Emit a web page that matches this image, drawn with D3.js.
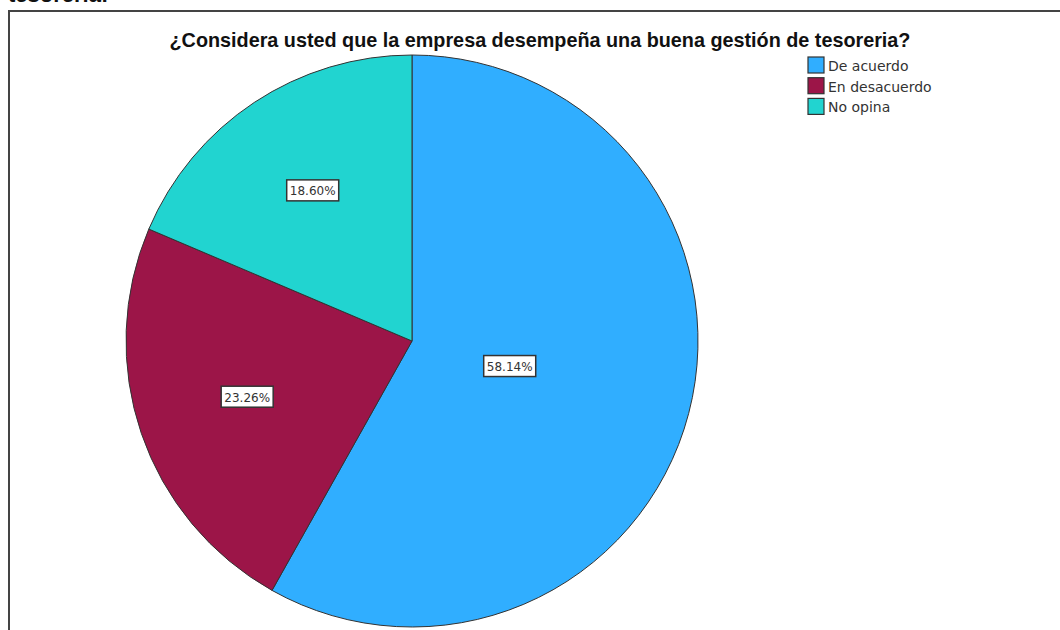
<!DOCTYPE html>
<html><head><meta charset="utf-8">
<script src="https://cdn.jsdelivr.net/npm/d3@7"></script>
<style>body{margin:0;background:#fff;overflow:hidden}svg{display:block;font-family:Arial,"Liberation Sans",sans-serif}</style>
</head><body><svg id="c" width="1060" height="630"></svg>
<script>
const categories = ["De acuerdo", "En desacuerdo", "No opina"];
const values = [58.14, 23.26, 18.60];
const labels = ["58.14%", "23.26%", "18.60%"];
const colors = ["#30aeff", "#9c1548", "#21d4d0"];
const title = "¿Considera usted que la empresa desempeña una buena gestión de tesoreria?";

const svg = d3.select("#c");
// cut-off heading above frame
svg.append("text").attr("x", 8).attr("y", 2).attr("font-size", 22).attr("font-weight", "bold").attr("fill", "#111").text("tesorería:");
// frame
svg.append("rect").attr("x", 9).attr("y", 11).attr("width", 1080).attr("height", 700)
  .attr("fill", "none").attr("stroke", "#444").attr("stroke-width", 2);

svg.append("text").attr("x", 540).attr("y", 47).attr("text-anchor", "middle")
  .attr("font-size", 19.8).attr("font-weight", "bold").attr("fill", "#111").text(title);

const cx = 412, cy = 341, r = 286;
const data = categories.map((c, i) => ({c, v: values[i], l: labels[i], col: colors[i]}));
const pie = d3.pie().value(d => d.v).sort(null);
const arc = d3.arc().innerRadius(0).outerRadius(r);
const g = svg.append("g").attr("transform", `translate(${cx},${cy})`);
const arcs = pie(data);
g.selectAll("path").data(arcs).join("path").attr("d", arc)
  .attr("fill", d => d.data.col).attr("stroke", "#333").attr("stroke-width", 1);

// label at area centroid of each sector
function centroid(d) {
  const th = d.endAngle - d.startAngle, mid = (d.startAngle + d.endAngle) / 2;
  const dist = 4 * r * Math.sin(th / 2) / (3 * th);
  return [dist * Math.sin(mid), -dist * Math.cos(mid)];
}
const lg = g.selectAll("g.l").data(arcs).join("g").attr("class", "l")
  .attr("transform", d => { const [x, y] = centroid(d); return `translate(${x},${y})`; });
lg.append("rect").attr("x", -26).attr("y", -11).attr("width", 52).attr("height", 21)
  .attr("fill", "#fff").attr("stroke", "#333").attr("stroke-width", 1.5);
lg.append("text").attr("text-anchor", "middle").attr("y", 4.5).attr("font-family", "DejaVu Sans")
  .attr("font-size", 12).attr("fill", "#333").text(d => d.data.l);

const leg = svg.append("g").attr("transform", "translate(808,57)");
const li = leg.selectAll("g").data(data).join("g").attr("transform", (d, i) => `translate(0,${i * 20.7})`);
li.append("rect").attr("width", 16).attr("height", 16).attr("fill", d => d.col).attr("stroke", "#333").attr("stroke-width", 1.2);
li.append("text").attr("x", 20).attr("y", 14).attr("font-family", "DejaVu Sans").attr("font-size", 14).attr("fill", "#333").text(d => d.c);
</script></body></html>
